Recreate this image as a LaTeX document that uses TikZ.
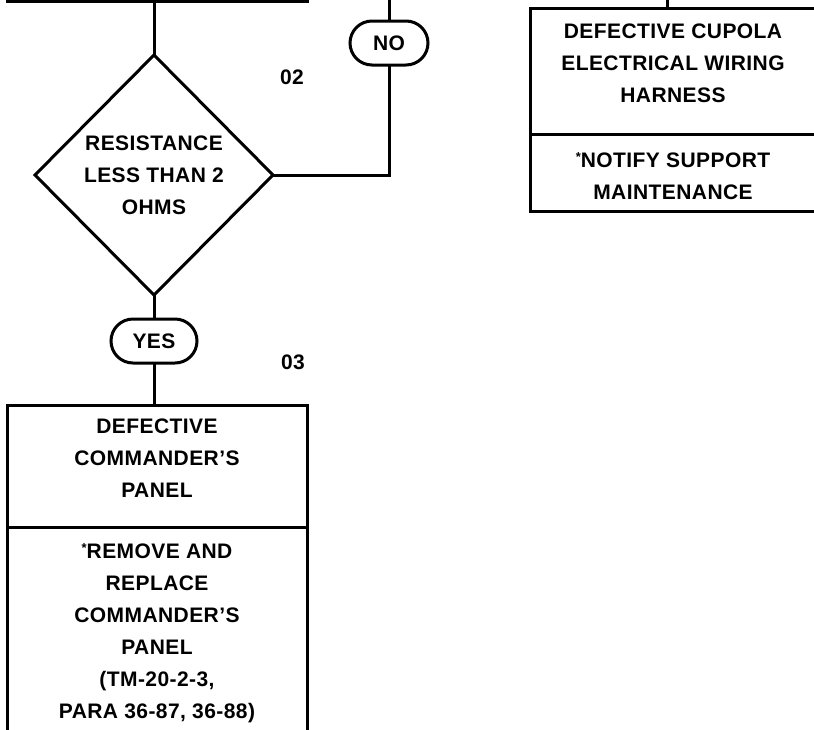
\documentclass[tikz,border=0pt]{standalone}
\usepackage{fontspec}
\setmainfont[LetterSpace=2]{Liberation Sans}
\usetikzlibrary{positioning,shapes.geometric}

\newcommand{\tinystar}{\raisebox{.3em}{\fontsize{13}{13}\selectfont *}}

\begin{document}
\begin{tikzpicture}[
  x=1pt, y=-1pt,
  line width=3pt,
  font=\fontsize{21}{32}\selectfont\bfseries,
  node distance=0pt,
  part/.style={draw, rectangle, inner sep=0pt, outer sep=0pt},
  txt/.style={align=center, inner sep=0pt},
  test/.style={draw, diamond, align=center, inner sep=0pt, outer sep=0pt, minimum width=238pt, minimum height=240pt},
  answer/.style={draw, rounded corners=22pt, minimum height=44pt, inner sep=0pt, outer sep=0pt},
  stepno/.style={inner sep=0pt}
]
\useasboundingbox (0,0) rectangle (814,729);

% box of the step above, only its bottom edge shows
\node[part, minimum width=300pt, minimum height=100pt, anchor=south west] (above) at (7,1.5) {};

\node[test] (dec) at (154,175) {RESISTANCE\\LESS THAN 2\\OHMS};
\node[stepno] (num02) at (292,77) {02};
\node[answer, minimum width=78pt] (no) at (389,43) {NO};
\node[answer, minimum width=86pt] (yes) at (154,341) {YES};
\node[stepno] (num03) at (293,362) {03};

% left result box
\node[part, minimum width=300pt, minimum height=122pt] (panel) at (157,466) {};
\node[part, minimum width=300pt, minimum height=218pt, below=of panel] (replace) {};
\node[txt] (paneltxt) at (157,458.5) {DEFECTIVE\\COMMANDER'S\\PANEL};
\node[txt] (replacetxt) at (157,633) {\tinystar REMOVE AND\\REPLACE\\COMMANDER'S\\PANEL\\(TM-20-2-3,\\PARA 36-87, 36-88)};

% right result box
\node[part, minimum width=288pt, minimum height=126pt] (cupola) at (674,71) {};
\node[part, minimum width=288pt, minimum height=77pt, below=of cupola] (notify) {};
\node[txt] (cupolatxt) at (673,63.5) {DEFECTIVE CUPOLA\\ELECTRICAL WIRING\\HARNESS};
\node[txt] (notifytxt) at (673,176) {\tinystar NOTIFY SUPPORT\\MAINTENANCE};

\coordinate (notop) at (389,-5);
\coordinate (wiretop) at (667,-5);

\draw (dec.north) -- (dec.north |- above.south);
\draw (dec.south) -- (yes.north);
\draw (yes.south) -- (yes.south |- panel.north);
\draw (dec.east) -| (no.south);
\draw (no.north) -- (notop);
\draw (wiretop) -- (wiretop |- cupola.north);
\end{tikzpicture}
\end{document}
